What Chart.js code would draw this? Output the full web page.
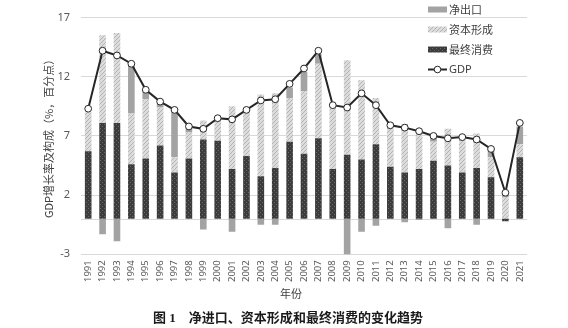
<!DOCTYPE html>
<html>
<head>
<meta charset="utf-8">
<script src="https://cdn.jsdelivr.net/npm/chart.js@4.4.1/dist/chart.umd.min.js"></script>
<style>
  html, body { margin: 0; padding: 0; background: #fff; }
  #wrap { width: 568px; height: 328px; }
</style>
</head>
<body>
<div id="wrap"><canvas id="chart" width="568" height="328"></canvas></div>
<script>
// years on the x axis
const years = ['1991','1992','1993','1994','1995','1996','1997','1998','1999','2000',
  '2001','2002','2003','2004','2005','2006','2007','2008','2009','2010',
  '2011','2012','2013','2014','2015','2016','2017','2018','2019','2020','2021'];

// contributions to GDP growth, percentage points
const consumption = [5.7, 8.1, 8.1, 4.6, 5.1, 6.2, 3.9, 5.1, 6.7, 6.6,
  4.2, 5.3, 3.6, 4.3, 6.5, 5.5, 6.8, 4.2, 5.4, 5.0,
  6.3, 4.4, 3.9, 4.2, 4.9, 4.5, 3.9, 4.3, 3.5, -0.2, 5.2];
const capital = [3.3, 7.4, 7.6, 4.3, 5.0, 3.2, 1.3, 2.2, 1.6, 1.6,
  5.3, 3.9, 6.9, 6.3, 3.7, 5.3, 6.3, 5.3, 8.0, 6.7,
  3.9, 3.6, 4.1, 3.3, 1.6, 3.1, 3.1, 2.9, 1.7, 1.8, 1.1];
const netExports = [0, -1.3, -1.9, 4.1, 0.6, 0.3, 3.8, 0.3, -0.9, 0.1,
  -1.1, 0, -0.5, -0.5, 0.9, 1.6, 0.8, 0.1, -4.0, -1.1,
  -0.6, 0.05, -0.3, -0.1, 0.4, -0.8, 0, -0.5, 0.6, 0.3, 1.5];
const gdp = [9.3, 14.2, 13.8, 13.1, 10.9, 9.9, 9.2, 7.8, 7.6, 8.5,
  8.4, 9.2, 10.0, 10.1, 11.4, 12.7, 14.2, 9.6, 9.4, 10.6,
  9.6, 7.9, 7.7, 7.4, 7.0, 6.8, 6.9, 6.7, 5.9, 2.2, 8.1];

const yTicks = [-3, 2, 7, 12, 17];

const cjk = '"Noto Sans CJK SC", "Noto Sans", sans-serif';
const latin = '"Noto Sans", "Liberation Sans", sans-serif';

// small tiled patterns like the excel fills
function makePattern(bg, fg, kind) {
  const c = document.createElement('canvas');
  c.width = 4; c.height = 4;
  const g = c.getContext('2d');
  g.fillStyle = bg;
  g.fillRect(0, 0, 4, 4);
  g.fillStyle = fg;
  if (kind === 'diag') {
    for (let i = 0; i < 4; i++) g.fillRect(i, 3 - i, 1, 1);
  } else {
    g.fillRect(0, 0, 1, 1);
    g.fillRect(2, 2, 1, 1);
  }
  return g.createPattern(c, 'repeat');
}

const capFill = makePattern('#dcdcdc', '#b4b4b4', 'diag');
const conFill = makePattern('#3c3c3c', '#6a6a6a', 'dots');
const nxFill = '#a3a3a3';

// line at zero, under the bars
const zeroLine = {
  id: 'zeroLine',
  beforeDatasetsDraw(chart) {
    const { ctx, chartArea, scales } = chart;
    const y = Math.round(scales.y.getPixelForValue(0)) + 0.5;
    ctx.save();
    ctx.strokeStyle = '#d9d9d9';
    ctx.lineWidth = 1;
    ctx.beginPath();
    ctx.moveTo(chartArea.left, y);
    ctx.lineTo(chartArea.right, y);
    ctx.stroke();
    ctx.restore();
  }
};

// legend top right, axis title and figure caption
const extras = {
  id: 'extras',
  afterDraw(chart) {
    const ctx = chart.ctx;
    ctx.save();
    const lx = 428, items = [
      { text: '净出口', fill: nxFill, y: 9.5 },
      { text: '资本形成', fill: capFill, y: 29.5 },
      { text: '最终消费', fill: conFill, y: 49.5 }
    ];
    ctx.font = '11px ' + cjk;
    ctx.textBaseline = 'middle';
    ctx.textAlign = 'left';
    items.forEach(it => {
      ctx.fillStyle = it.fill;
      ctx.fillRect(lx, it.y - 3, 19, 6);
      ctx.fillStyle = '#404040';
      ctx.fillText(it.text, lx + 21, it.y);
    });
    // GDP line symbol
    const gy = 69.5;
    ctx.strokeStyle = '#262626';
    ctx.lineWidth = 2;
    ctx.beginPath();
    ctx.moveTo(lx, gy);
    ctx.lineTo(lx + 19, gy);
    ctx.stroke();
    ctx.beginPath();
    ctx.arc(lx + 9.5, gy, 3.3, 0, Math.PI * 2);
    ctx.fillStyle = '#fff';
    ctx.fill();
    ctx.lineWidth = 1;
    ctx.stroke();
    ctx.fillStyle = '#404040';
    ctx.font = '11px ' + latin;
    ctx.fillText('GDP', lx + 21, gy);

    ctx.textAlign = 'center';
    ctx.fillStyle = '#404040';
    ctx.font = '11px ' + cjk;
    ctx.fillText('年份', 291, 294);

    ctx.fillStyle = '#1a1a1a';
    ctx.font = 'bold 13px "Liberation Serif", ' + cjk;
    ctx.fillText('图 1    净进口、资本形成和最终消费的变化趋势', 288, 319);
    ctx.restore();
  }
};

new Chart(document.getElementById('chart'), {
  type: 'bar',
  data: {
    labels: years,
    datasets: [
      {
        label: 'GDP',
        type: 'line',
        data: gdp,
        stack: 'gdp',
        order: 0,
        borderColor: '#262626',
        borderWidth: 2,
        pointRadius: 3.4,
        pointBackgroundColor: '#fff',
        pointBorderColor: '#262626',
        pointBorderWidth: 1,
        tension: 0
      },
      { label: '最终消费', data: consumption, backgroundColor: conFill, stack: 's', order: 1 },
      { label: '资本形成', data: capital, backgroundColor: capFill, stack: 's', order: 1 },
      { label: '净出口', data: netExports, backgroundColor: nxFill, stack: 's', order: 1 }
    ]
  },
  options: {
    responsive: false,
    animation: false,
    layout: { padding: { left: 0, right: 41, top: 14, bottom: 40 } },
    datasets: {
      bar: { barPercentage: 0.46, categoryPercentage: 1 }
    },
    plugins: {
      legend: { display: false },
      tooltip: { enabled: false }
    },
    scales: {
      x: {
        stacked: true,
        grid: { display: false, drawTicks: false },
        border: { display: false },
        ticks: {
          minRotation: 90, maxRotation: 90, padding: 6, autoSkip: false,
          color: '#595959', font: { family: latin, size: 9.5 }
        }
      },
      y: {
        stacked: true,
        min: -3,
        max: 17,
        afterBuildTicks(scale) { scale.ticks = yTicks.map(v => ({ value: v })); },
        afterFit(scale) { scale.width = 81; },
        grid: { color: '#d9d9d9', drawTicks: false },
        border: { display: false },
        ticks: { padding: 11, color: '#595959', font: { family: latin, size: 11 } },
        title: {
          display: true,
          text: 'GDP增长率及构成（%，百分点）',
          color: '#404040',
          font: { family: cjk, size: 11 },
          padding: { top: 42 }
        }
      }
    }
  },
  plugins: [zeroLine, extras]
});
</script>
</body>
</html>
